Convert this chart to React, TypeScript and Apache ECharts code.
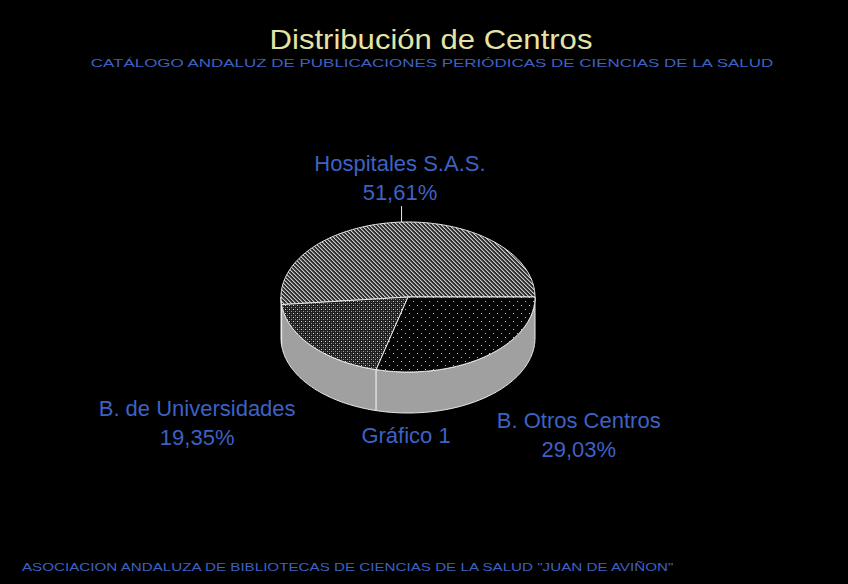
import React, { useEffect, useRef } from 'react';
import * as echarts from 'echarts';

// ---- data ----
const TITLE = 'Distribución de Centros';
const SUBTITLE = 'CATÁLOGO ANDALUZ DE PUBLICACIONES PERIÓDICAS DE CIENCIAS DE LA SALUD';
const FOOTER = 'ASOCIACION ANDALUZA DE BIBLIOTECAS DE CIENCIAS DE LA SALUD "JUAN DE AVIÑON"';
const CAPTION = 'Gráfico 1';
const CATEGORIES = ['Hospitales S.A.S.', 'B. de Universidades', 'B. Otros Centros'];
const VALUES = [51.61, 19.35, 29.03];

// ---- layout / style ----
const W = 848, H = 584;
const CX = 408, CY = 297, RX = 127, RY = 75, DEPTH = 41;
const LABEL_OFFSETS: [number, number][] = [[-1.6, -44.5], [-114.5, 36], [93, 38]];
const LEADERS = [16, 0, 0];
const LABEL_COLOR = '#3d62c4';
const SIDE_COLOR = '#a0a0a0';
const EDGE_COLOR = '#ececec';
const FONT = '"Liberation Sans", Arial, sans-serif';

const toRad = (d: number) => (d * Math.PI) / 180;
function ellPt(deg: number, dy = 0): number[] {
  const r = toRad(deg);
  return [CX + RX * Math.cos(r), CY - RY * Math.sin(r) + dy];
}
function arcPts(a0: number, a1: number, dy: number): number[][] {
  const n = Math.max(2, Math.ceil(Math.abs(a1 - a0)));
  const pts: number[][] = [];
  for (let k = 0; k <= n; k++) pts.push(ellPt(a0 + ((a1 - a0) * k) / n, dy));
  return pts;
}
function makeTile(w: number, h: number, bg: string, px: [number, number, string][]) {
  const c = document.createElement('canvas');
  c.width = w;
  c.height = h;
  const g = c.getContext('2d')!;
  g.fillStyle = bg;
  g.fillRect(0, 0, w, h);
  px.forEach(([x, y, col]) => {
    g.fillStyle = col;
    g.fillRect(x, y, 1, 1);
  });
  return { image: c.toDataURL(), repeat: 'repeat', imageWidth: w, imageHeight: h };
}
function measure(text: string, font: string) {
  const g = document.createElement('canvas').getContext('2d')!;
  g.font = font;
  return g.measureText(text).width;
}
const fmtPct = (v: number) => v.toFixed(2).replace('.', ',') + '%';

export default function App() {
  const ref = useRef<HTMLDivElement>(null);
  useEffect(() => {
    const el = ref.current!;
    const chart = echarts.init(el, null, { renderer: 'svg', width: W, height: H });

    const patterns = [
      makeTile(4, 4, '#2e2e2e', [
        [0, 0, '#cccccc'], [1, 1, '#cccccc'], [2, 2, '#cccccc'], [3, 3, '#cccccc'],
        [1, 0, '#707070'], [2, 1, '#707070'], [3, 2, '#707070'], [0, 3, '#707070'],
      ]),
      makeTile(4, 4, '#1e1e1e', [[1, 1, '#d8d8d8'], [3, 3, '#a0a0a0'], [3, 1, '#505050'], [1, 3, '#505050']]),
      makeTile(8, 8, '#050505', [[1, 1, '#d0d0d0'], [5, 5, '#b0b0b0']]),
    ];

    const total = VALUES.reduce((a, b) => a + b, 0);
    const starts: number[] = [];
    VALUES.reduce((acc, v) => {
      starts.push((acc / total) * 360);
      return acc + v;
    }, 0);

    const titleFont = `27px ${FONT}`;
    const subFont = `11px ${FONT}`;
    const footFont = `11px ${FONT}`;
    const titleScale = 323 / measure(TITLE, titleFont);
    const subScale = 685 / measure(SUBTITLE, subFont);
    const footScale = 655 / measure(FOOTER, footFont);

    const option: any = {
      animation: false,
      backgroundColor: '#000000',
      graphic: [
        {
          type: 'text', x: 431, y: 40, scaleX: titleScale,
          style: { text: TITLE, font: titleFont, fill: '#e4e4a6', align: 'center', verticalAlign: 'middle' },
        },
        {
          type: 'text', x: 432, y: 63, scaleX: subScale,
          style: { text: SUBTITLE, font: subFont, fill: LABEL_COLOR, align: 'center', verticalAlign: 'middle' },
        },
        {
          type: 'text', x: 22, y: 567, scaleX: footScale,
          style: { text: FOOTER, font: footFont, fill: LABEL_COLOR, align: 'left', verticalAlign: 'middle' },
        },
        {
          type: 'text', x: 406, y: 435,
          style: { text: CAPTION, font: `22px ${FONT}`, fill: LABEL_COLOR, align: 'center', verticalAlign: 'middle' },
        },
      ],
      series: [
        {
          type: 'custom',
          coordinateSystem: 'none',
          silent: true,
          data: VALUES.map((v, i) => ({ name: CATEGORIES[i], value: [v] })),
          renderItem: (params: any, api: any) => {
            const i = params.dataIndex;
            const start = starts[i];
            const end = start + (api.value(0) / total) * 360;
            const children: any[] = [];
            const s = Math.max(start, 180);
            const e = Math.min(end, 360);
            if (e > s) {
              const pts = arcPts(s, e, 0).concat(arcPts(e, s, DEPTH));
              children.push({
                type: 'polygon',
                shape: { points: pts },
                style: { fill: SIDE_COLOR, stroke: EDGE_COLOR, lineWidth: 1 },
              });
            }
            children.push({
              type: 'polygon',
              shape: { points: [[CX, CY]].concat(arcPts(start, end, 0)) },
              style: { fill: patterns[i], stroke: EDGE_COLOR, lineWidth: 1 },
            });
            const mid = (start + end) / 2;
            const anchor = ellPt(mid, Math.sin(toRad(mid)) < 0 ? DEPTH : 0);
            if (LEADERS[i] > 0) {
              children.push({
                type: 'line',
                shape: { x1: anchor[0], y1: anchor[1], x2: anchor[0], y2: anchor[1] - LEADERS[i] },
                style: { stroke: EDGE_COLOR, lineWidth: 1 },
              });
            }
            children.push({
              type: 'text',
              x: anchor[0] + LABEL_OFFSETS[i][0],
              y: anchor[1] + LABEL_OFFSETS[i][1],
              style: {
                text: CATEGORIES[i] + '\n' + fmtPct(api.value(0)),
                font: `22px ${FONT}`,
                fill: LABEL_COLOR,
                align: 'center',
                verticalAlign: 'middle',
                lineHeight: 29,
              },
            });
            return { type: 'group', children };
          },
        },
      ],
    };
    chart.setOption(option);
    return () => chart.dispose();
  }, []);
  return (
    <div
      ref={ref}
      style={{ position: 'fixed', left: 0, top: 0, width: W, height: H, background: '#000' }}
    />
  );
}
